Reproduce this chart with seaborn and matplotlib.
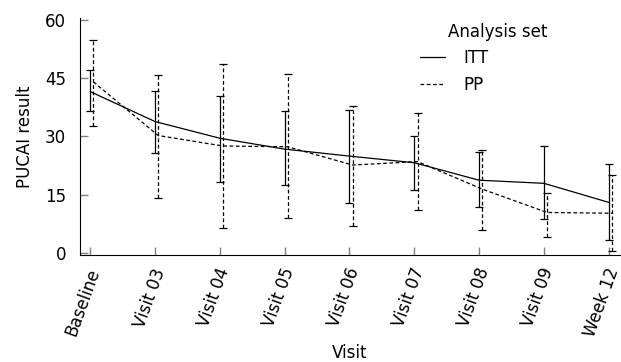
import numpy as np
import pandas as pd
import seaborn as sns
import matplotlib
matplotlib.use('Agg')
import matplotlib.pyplot as plt
import matplotlib.transforms as mtrans

# Dados
visitas = ['Baseline', 'Visit 03', 'Visit 04', 'Visit 05', 'Visit 06',
           'Visit 07', 'Visit 08', 'Visit 09', 'Week 12']
itt_media = [41.5, 33.8, 29.5, 26.7, 24.9, 23.2, 18.7, 17.9, 13.0]
itt_sup = [47.0, 41.7, 40.4, 36.5, 36.8, 30.2, 25.9, 27.5, 22.9]
itt_inf = [36.6, 25.6, 18.3, 17.5, 12.9, 16.1, 11.7, 8.7, 3.3]
pp_media = [44.0, 30.2, 27.5, 27.3, 22.6, 23.5, 16.4, 10.4, 10.2]
pp_sup = [54.8, 45.8, 48.6, 45.9, 37.8, 35.9, 26.5, 15.5, 20.0]
pp_inf = [32.6, 14.1, 6.5, 9.1, 6.9, 11.1, 5.9, 4.2, 0.6]

sns.set_style('ticks', {'text.color': 'black', 'axes.labelcolor': 'black',
                        'xtick.color': 'black', 'ytick.color': 'black',
                        'axes.edgecolor': 'black'})
plt.rcParams['font.family'] = ['DejaVu Sans']

pos = np.arange(len(visitas))
desloc = 0.05
dados = pd.DataFrame({
    'x': np.concatenate([pos, pos + desloc]),
    'PUCAI': itt_media + pp_media,
    'Analysis set': ['ITT'] * len(visitas) + ['PP'] * len(visitas),
})

fig = plt.figure(figsize=(6.21, 3.62), dpi=100)
ax = fig.add_axes([0.129, 0.296, 0.869, 0.655])

sns.lineplot(data=dados, x='x', y='PUCAI', style='Analysis set',
             dashes={'ITT': '', 'PP': (3, 2)}, color='black', linewidth=0.9,
             ax=ax)

# Barras de erro
ax.errorbar(pos, itt_media,
            yerr=[np.array(itt_media) - np.array(itt_inf), np.array(itt_sup) - np.array(itt_media)],
            fmt='none', ecolor='black', elinewidth=0.9, capsize=3, capthick=0.9)
eb = ax.errorbar(pos + desloc, pp_media,
                 yerr=[np.array(pp_media) - np.array(pp_inf), np.array(pp_sup) - np.array(pp_media)],
                 fmt='none', ecolor='black', elinewidth=0.9, capsize=3, capthick=0.9)
for linha in eb[2]:
    linha.set_linestyle((0, (3, 2)))

ax.set_xlim(-0.155, 8.17)
ax.set_ylim(-0.5, 60.5)
ax.set_yticks([0, 15, 30, 45, 60])
ax.set_xticks(pos)
ax.tick_params(axis='y', labelsize=12)
ax.tick_params(direction='in', length=6, color='#808080', width=1, pad=10,
               labelcolor='black')
ax.set_xticklabels(visitas, rotation=70, ha='right', va='center',
                   rotation_mode='anchor', fontsize=12)
# desloca um pouco os rotulos para a direita
offset = mtrans.ScaledTranslation(0.05, 0, fig.dpi_scale_trans)
for lbl in ax.get_xticklabels():
    lbl.set_transform(lbl.get_transform() + offset)
ax.set_xlabel('Visit', fontsize=12)
ax.xaxis.set_label_coords(0.5, -0.375)
ax.set_ylabel('PUCAI result', fontsize=12, labelpad=8)
sns.despine(ax=ax)

# Legenda
handles, labels = ax.get_legend_handles_labels()
ax.legend(handles, labels, frameon=False, loc='upper left',
          bbox_to_anchor=(420 / 621, 1 - 49 / 362), bbox_transform=fig.transFigure,
          borderpad=0, borderaxespad=0, fontsize=12, handlelength=1.5,
          handletextpad=1.1, labelspacing=0.55)
fig.text(448 / 621, 1 - 32 / 362, 'Analysis set', fontsize=12, ha='left', va='center')

plt.savefig('out.png', dpi=100)
